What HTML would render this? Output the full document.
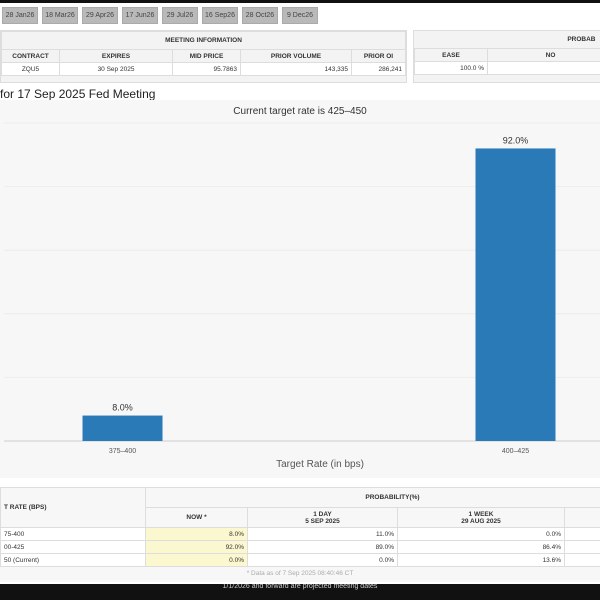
<!DOCTYPE html>
<html><head><meta charset="utf-8"><style>
body{margin:0;width:600px;height:600px;overflow:hidden;background:#fff;font-family:"Liberation Sans",sans-serif;position:relative}
.abs{position:absolute}
.tab{position:absolute;top:7px;height:15px;background:#b9b9b9;border:1px solid #aaa;font-size:7px;color:#444;line-height:15px;text-align:center}
table{border-collapse:collapse;font-size:6.5px;color:#333}
td{border:1px solid #ddd;padding:0 3px;height:12px}
</style></head><body>
<div class="abs" style="left:0;top:0;width:600px;height:3px;background:#111"></div>
<div id="tabs"></div>
<div class="abs" style="left:0;top:30px;width:405px;height:51px;background:#f3f3f3;border:1px solid #ddd">
<table style="width:405px;background:#fff;margin-top:0">
<tr style="background:#f3f3f3"><td colspan="5" style="text-align:center;font-weight:bold;height:17px">MEETING INFORMATION</td></tr>
<tr style="background:#f3f3f3;text-align:center;font-weight:bold"><td>CONTRACT</td><td>EXPIRES</td><td>MID PRICE</td><td>PRIOR VOLUME</td><td>PRIOR OI</td></tr>
<tr><td style="text-align:center;width:51px">ZQU5</td><td style="text-align:center;width:106px">30 Sep 2025</td><td style="text-align:right;width:61px">95.7863</td><td style="text-align:right;width:104px">143,335</td><td style="text-align:right">286,241</td></tr>
</table></div>
<div class="abs" style="left:413px;top:30px;width:187px;height:51px;background:#f3f3f3;border:1px solid #ddd">
<table style="width:200px">
<tr><td colspan="2" style="text-align:right;font-weight:bold;height:17px;border:none;padding-right:18px">PROBAB</td></tr>
<tr style="text-align:center;font-weight:bold"><td>EASE</td><td>NO</td></tr>
<tr style="background:#fff"><td style="text-align:right;width:66px">100.0 %</td><td></td></tr>
</table></div>
<div class="abs" style="left:0;top:87px;font-size:12px;color:#222">for 17 Sep 2025 Fed Meeting</div>
<svg class="abs" style="left:0;top:100px" width="600" height="378" id="chart"></svg>
<div class="abs" style="left:0;top:487px;width:600px;height:95px;background:#f7f7f7">
<table style="width:640px;background:#fff">
<tr style="background:#f7f7f7"><td rowspan="2" style="width:138px;font-weight:bold">T RATE (BPS)</td><td colspan="4" style="text-align:center;font-weight:bold;height:19px">PROBABILITY(%)</td></tr>
<tr style="background:#f7f7f7;text-align:center;font-weight:bold;height:20px"><td style="width:95px">NOW *</td><td style="width:143px">1 DAY<br>5 SEP 2025</td><td style="width:160px">1 WEEK<br>29 AUG 2025</td><td></td></tr>
<tr><td>75-400</td><td style="text-align:right;background:#fbf8cf">8.0%</td><td style="text-align:right">11.0%</td><td style="text-align:right">0.0%</td><td></td></tr>
<tr><td>00-425</td><td style="text-align:right;background:#fbf8cf">92.0%</td><td style="text-align:right">89.0%</td><td style="text-align:right">86.4%</td><td></td></tr>
<tr><td>50 (Current)</td><td style="text-align:right;background:#fbf8cf">0.0%</td><td style="text-align:right">0.0%</td><td style="text-align:right">13.6%</td><td></td></tr>
</table>
<div style="text-align:center;font-size:6.5px;color:#aaa;margin-top:3px">* Data as of 7 Sep 2025 08:40:46 CT</div>
</div>
<div class="abs" style="left:0;top:584px;width:600px;height:16px;background:#111;color:#ccc;font-size:7px;text-align:center;line-height:6px;overflow:hidden">1/1/2026 and forward are projected meeting dates</div>
<script>
const tabLabels=["28 Jan26","18 Mar26","29 Apr26","17 Jun26","29 Jul26","16 Sep26","28 Oct26","9 Dec26"];
const categories=["375–400","400–425"];
const values=[8.0,92.0];
const yTicks=[0,20,40,60,80,100];
const tabs=document.getElementById('tabs');
tabLabels.forEach((t,i)=>{const d=document.createElement('div');d.className='tab';d.style.left=(2+i*40)+'px';d.style.width='34px';d.textContent=t;


tabs.appendChild(d);});
const svg=document.getElementById('chart');const NS='http://www.w3.org/2000/svg';
function mk(tag,a,txt){const e=document.createElementNS(NS,tag);for(const k in a)e.setAttribute(k,a[k]);if(txt!=null)e.textContent=txt;svg.appendChild(e);return e;}
const bg=mk('rect',{x:0,y:0,width:600,height:378,fill:'#f7f7f7'});


const y0=341,yTop=23;const y=v=>y0-(v/100)*(y0-yTop);
const bandW=393,x0=-74;const xc=i=>x0+bandW*(i+0.5);
yTicks.forEach(t=>{const g=mk('line',{x1:4,x2:600,y1:y(t),y2:y(t),stroke:t===0?'#ccc':'#ececec','stroke-width':1});

});
const st=mk('text',{x:300,y:14,'text-anchor':'middle','font-size':10,fill:'#333','font-family':'Liberation Sans, sans-serif'},'Current target rate is 425–450');


categories.forEach((c,i)=>{
const r=mk('rect',{x:xc(i)-40,y:y(values[i]),width:80,height:y0-y(values[i]),fill:'#2a7ab8'});


const l=mk('text',{x:xc(i),y:y(values[i])-5,'text-anchor':'middle','font-size':9,fill:'#333','font-family':'Liberation Sans, sans-serif'},values[i].toFixed(1)+'%');


const tl=mk('text',{x:xc(i),y:y0+12,'text-anchor':'middle','font-size':7,fill:'#555','font-family':'Liberation Sans, sans-serif'},c);


});
const xt=mk('text',{x:320,y:367,'text-anchor':'middle','font-size':10,fill:'#555','font-family':'Liberation Sans, sans-serif'},'Target Rate (in bps)');


</script>
</body></html>
